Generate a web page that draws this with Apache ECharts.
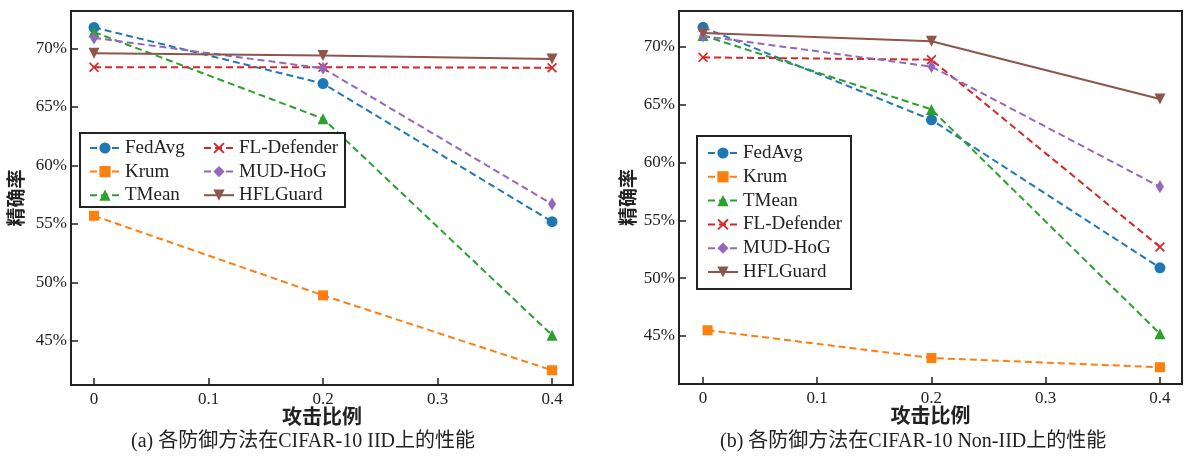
<!DOCTYPE html>
<html>
<head>
<meta charset="utf-8">
<script src="https://cdn.jsdelivr.net/npm/echarts@6/dist/echarts.min.js"></script>
<style>
html,body{margin:0;padding:0;background:#fff;}
#c{width:1184px;height:467px;}
</style>
</head>
<body>
<div id="c"></div>
<script>
// ---- data ----
const methods = ['FedAvg', 'Krum', 'TMean', 'FL-Defender', 'MUD-HoG', 'HFLGuard'];
const attackRatios = [0, 0.2, 0.4];
const krumNonIidX = [0.004, 0.2, 0.4];
const xTicks = [0, 0.1, 0.2, 0.3, 0.4];
const yTicks = [45, 50, 55, 60, 65, 70];

// IID accuracy (%)
const iidFedAvg = [71.8, 67.0, 55.2];
const iidKrum = [55.7, 48.9, 42.5];
const iidTMean = [71.4, 64.0, 45.5];
const iidFLDefender = [68.4, 68.4, 68.35];
const iidMUDHoG = [70.9, 68.3, 56.7];
const iidHFLGuard = [69.6, 69.4, 69.1];

// Non-IID accuracy (%)
const nonFedAvg = [71.7, 63.7, 50.9];
const nonKrum = [45.5, 43.1, 42.3];
const nonTMean = [71.0, 64.6, 45.2];
const nonFLDefender = [69.1, 68.9, 52.7];
const nonMUDHoG = [70.95, 68.3, 57.9];
const nonHFLGuard = [71.2, 70.5, 65.5];

const iidData = [iidFedAvg, iidKrum, iidTMean, iidFLDefender, iidMUDHoG, iidHFLGuard];
const nonData = [nonFedAvg, nonKrum, nonTMean, nonFLDefender, nonMUDHoG, nonHFLGuard];

// ---- styles ----
const colors = ['#1f77b4', '#ff7f0e', '#2ca02c', '#d62728', '#9467bd', '#8c564b'];
const xPath = 'path://M0,1.2L1.2,0L5,3.8L8.8,0L10,1.2L6.2,5L10,8.8L8.8,10L5,6.2L1.2,10L0,8.8L3.8,5Z';
const symbols = ['circle', 'rect', 'triangle', xPath, 'diamond', 'triangle'];
const symbolSizes = [11, 10, 11, 10, [8, 13], 11];
const rotates = [0, 0, 0, 0, 0, 180];
const dashed = [true, true, true, true, true, false];
const FONT = '"Liberation Serif", "Noto Sans CJK SC", serif';
const ink = '#222';

function makeSeries(dataArr, gridIdx, isNon) {
  return methods.map((m, i) => {
    const xs = (isNon && m === 'Krum') ? krumNonIidX : attackRatios;
    return {
      name: m,
      type: 'line',
      xAxisIndex: gridIdx,
      yAxisIndex: gridIdx,
      data: dataArr[i].map((v, k) => [xs[k], v]),
      symbol: symbols[i],
      symbolSize: symbolSizes[i],
      symbolRotate: rotates[i],
      showSymbol: true,
      z: 2,
      lineStyle: {color: colors[i], width: 2, type: dashed[i] ? [7, 4] : 'solid'},
      itemStyle: {color: colors[i]},
      emphasis: {disabled: true},
      animation: false
    };
  });
}

function xAxis(gridIdx, min, max) {
  return {
    type: 'value', gridIndex: gridIdx, min: min, max: max,
    name: '攻击比例', nameLocation: 'middle', nameGap: 24, nameMoveOverlap: false,
    nameTextStyle: {fontFamily: FONT, fontSize: 20, color: ink, fontWeight: 'bold'},
    axisLine: {show: false, onZero: false},
    axisTick: {show: true, inside: true, length: 7, customValues: xTicks, lineStyle: {color: ink, width: 1.5}},
    axisLabel: {customValues: xTicks, fontFamily: FONT, fontSize: 17, color: ink, margin: 6,
      formatter: v => (Math.abs(v) < 1e-9 ? '0' : v.toFixed(1))},
    splitLine: {show: false}
  };
}
function yAxis(gridIdx, min, max, gap) {
  return {
    type: 'value', gridIndex: gridIdx, min: min, max: max,
    name: '精确率', nameLocation: 'middle', nameGap: gap,
    nameTextStyle: {fontFamily: FONT, fontSize: 19, color: ink, fontWeight: 'bold'},
    axisLine: {show: false, onZero: false},
    axisTick: {show: true, inside: true, length: 7, customValues: yTicks, lineStyle: {color: ink, width: 1.5}},
    axisLabel: {customValues: yTicks, fontFamily: FONT, fontSize: 17, color: ink, margin: 4,
      formatter: v => v + '%'},
    splitLine: {show: false}
  };
}

const legendText = {fontFamily: FONT, fontSize: 19, color: ink};
const chart = echarts.init(document.getElementById('c'), null, {renderer: 'canvas'});
chart.setOption({
  backgroundColor: '#fff',
  animation: false,
  grid: [
    {left: 71, top: 11, width: 502, height: 374, show: true, borderColor: ink, borderWidth: 2, backgroundColor: 'transparent'},
    {left: 679, top: 11, width: 503, height: 373, show: true, borderColor: ink, borderWidth: 2, backgroundColor: 'transparent'}
  ],
  xAxis: [xAxis(0, -0.0201, 0.4183), xAxis(1, -0.021, 0.4193)],
  yAxis: [yAxis(0, 41.24, 73.2, 43), yAxis(1, 40.85, 73.11, 38)],
  legend: [
    {data: methods.slice(0, 3), orient: 'vertical', left: 89, top: 138.5, itemWidth: 30, itemHeight: 14,
      itemGap: 4.6, textStyle: legendText, padding: 0, selectedMode: false, z: 20},
    {data: methods.slice(3), orient: 'vertical', left: 203, top: 138.5, itemWidth: 30, itemHeight: 14,
      itemGap: 4.6, textStyle: legendText, padding: 0, selectedMode: false, z: 20},
    {data: methods, orient: 'vertical', left: 707, top: 143.5, itemWidth: 30, itemHeight: 14,
      itemGap: 4.8, textStyle: legendText, padding: 0, selectedMode: false, z: 20}
  ],
  graphic: [
    {type: 'rect', z: 10, shape: {x: 80, y: 133, width: 265, height: 74}, style: {fill: '#fff', stroke: ink, lineWidth: 2}},
    {type: 'rect', z: 10, shape: {x: 697, y: 136, width: 154, height: 153}, style: {fill: '#fff', stroke: ink, lineWidth: 2}},
    {type: 'text', left: 131, top: 432, style: {text: '(a) 各防御方法在CIFAR-10 IID上的性能', font: '20px ' + FONT, fill: ink}},
    {type: 'text', left: 720, top: 432, style: {text: '(b) 各防御方法在CIFAR-10 Non-IID上的性能', font: '20px ' + FONT, fill: ink}}
  ],
  series: [...makeSeries(iidData, 0, false), ...makeSeries(nonData, 1, true)]
});
</script>
</body>
</html>
